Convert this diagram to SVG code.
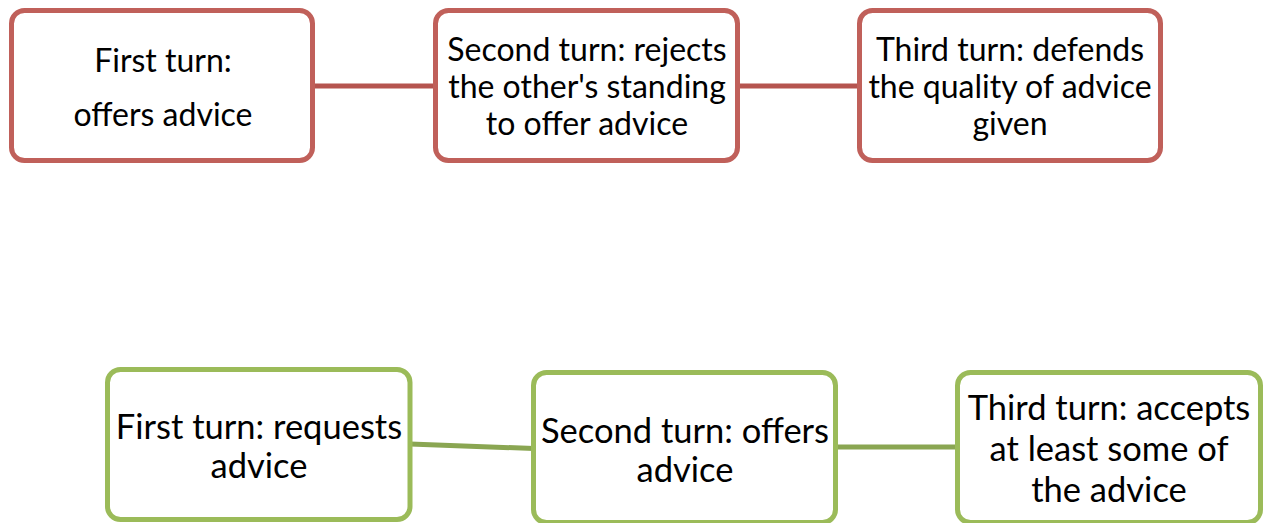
<svg xmlns="http://www.w3.org/2000/svg" width="1265" height="523" viewBox="0 0 1265 523">
<style>
.red{fill:#ffffff;stroke:#c0605a;stroke-width:5}
.green{fill:#ffffff;stroke:#9bbb59;stroke-width:5}
.cr{stroke:#b5544f;stroke-width:5;fill:none}
.cg{stroke:#8aa652;stroke-width:5;fill:none}
text{font-family:Lato,"Open Sans","Liberation Sans",sans-serif;fill:#000;text-anchor:middle}
.t{font-size:32px}
.b{font-size:34.5px}
</style>
<rect width="1265" height="523" fill="#ffffff"/>
<g id="connectors">
<line class="cr" x1="313" y1="86" x2="436" y2="86"/>
<line class="cr" x1="738" y1="86" x2="860" y2="86"/>
<line class="cg" x1="410" y1="444" x2="534" y2="448.5"/>
<line class="cg" x1="836" y1="447" x2="958" y2="447"/>
</g>
<g id="n1">
<rect class="red" x="11.5" y="10.5" width="301" height="150" rx="13"/>
<text class="t" x="163" y="72">First turn:</text>
<text class="t" x="163" y="126">offers advice</text>
</g>
<g id="n2">
<rect class="red" x="435.5" y="10.5" width="302" height="150" rx="13"/>
<text class="t" x="587" y="61">Second turn: rejects</text>
<text class="t" x="587" y="98">the other's standing</text>
<text class="t" x="587" y="135">to offer advice</text>
</g>
<g id="n3">
<rect class="red" x="859.5" y="10.5" width="301" height="150" rx="13"/>
<text class="t" x="1010" y="61">Third turn: defends</text>
<text class="t" x="1010" y="98">the quality of advice</text>
<text class="t" x="1010" y="135">given</text>
</g>
<g id="n4">
<rect class="green" x="107.5" y="369.5" width="302.5" height="150" rx="13"/>
<text class="b" x="259" y="439">First turn: requests</text>
<text class="b" x="259" y="478">advice</text>
</g>
<g id="n5">
<rect class="green" x="533.5" y="372.5" width="302" height="150" rx="13"/>
<text class="b" x="685" y="443">Second turn: offers</text>
<text class="b" x="685" y="482">advice</text>
</g>
<g id="n6">
<rect class="green" x="957.5" y="372.5" width="303" height="150" rx="13"/>
<text class="b" x="1109" y="420">Third turn: accepts</text>
<text class="b" x="1109" y="461">at least some of</text>
<text class="b" x="1109" y="502">the advice</text>
</g>
</svg>
